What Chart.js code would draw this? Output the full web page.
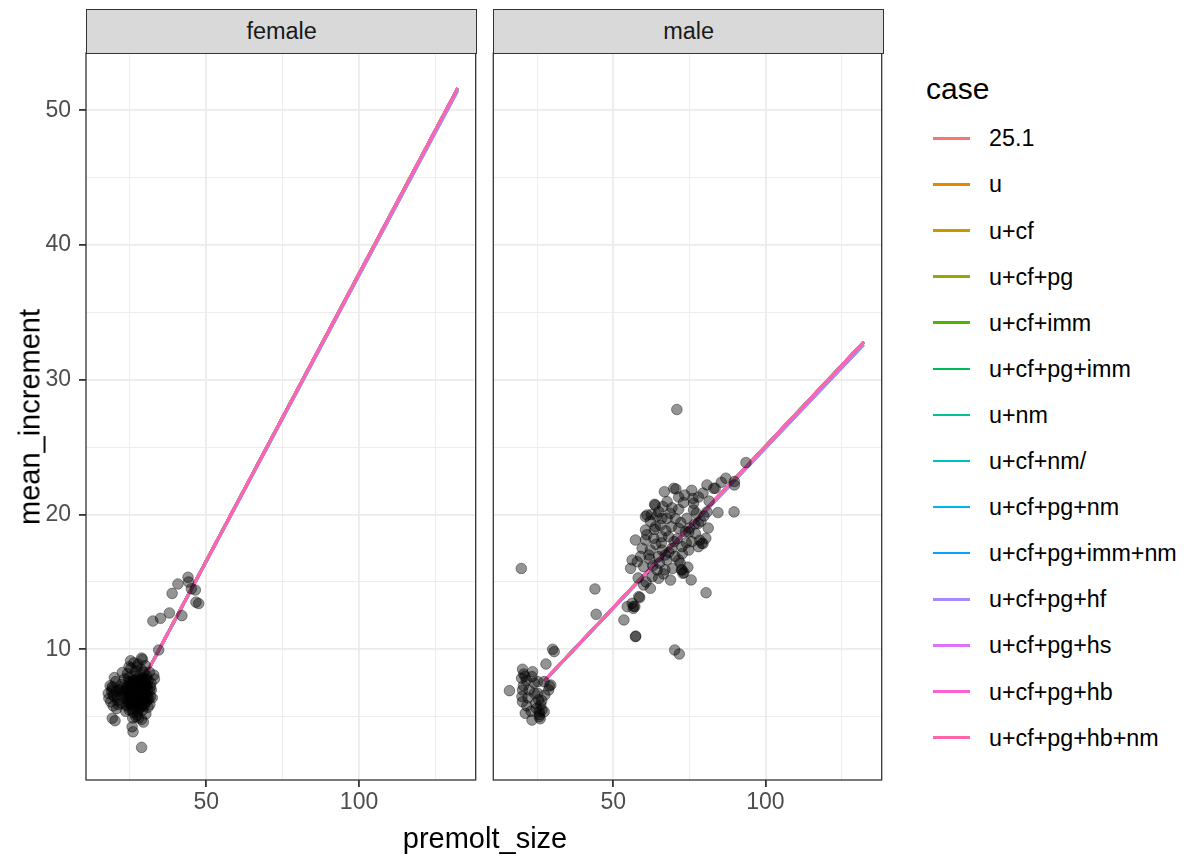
<!DOCTYPE html>
<html><head><meta charset="utf-8">
<script src="https://cdn.jsdelivr.net/npm/chart.js@4.4.0/dist/chart.umd.min.js"></script>
<style>
html,body{margin:0;padding:0;background:#fff;width:1190px;height:857px;overflow:hidden;font-family:"Liberation Sans",Arial,Helvetica,sans-serif;}
canvas{position:absolute;}
.strip{position:absolute;top:8.5px;height:45.5px;box-sizing:border-box;background:#D9D9D9;border:1.3px solid #333;color:#1A1A1A;font-size:23.5px;display:flex;align-items:center;justify-content:center;}
.ttl{position:absolute;color:#000;font-size:29px;white-space:nowrap;}
.leg{position:absolute;font-size:23.3px;color:#000;white-space:nowrap;}
.sw{position:absolute;height:2.6px;width:37px;}
</style>
</head><body>
<canvas id="cf" width="482" height="802" style="left:0px;top:23.3px;"></canvas>
<canvas id="cm" width="405" height="802" style="left:483px;top:23.3px;"></canvas>
<div class="strip" style="left:86px;width:391.3px;">female</div>
<div class="strip" style="left:493.3px;width:390.7px;">male</div>
<div class="ttl" id="xt" style="left:485px;top:838px;transform:translate(-50%,-50%);">premolt_size</div>
<div class="ttl" id="yt" style="left:30px;top:416.5px;transform:translate(-50%,-50%) rotate(-90deg);">mean_increment</div>
<div id="legend"></div>
<script>
// ---- data ----
const panels = ['female','male'];
const cases = ['25.1','u','u+cf','u+cf+pg','u+cf+imm','u+cf+pg+imm','u+nm','u+cf+nm/','u+cf+pg+nm','u+cf+pg+imm+nm','u+cf+pg+hf','u+cf+pg+hs','u+cf+pg+hb','u+cf+pg+hb+nm'];
const caseColors = ['#F8766D','#E38900','#C49A00','#99A800','#53B400','#00BC56','#00C094','#00BFC4','#00B6EB','#06A4FF','#A58AFF','#DF70F8','#FB61D7','#FF66A8'];

const xTicks = [25,50,75,100,125];
const xMajor = [50,100];
const yTicks = [5,10,15,20,25,30,35,40,45,50];
const yMajor = [10,20,30,40,50];
const xLimits = [10.6,138.2];
const yLimits = [0.3,54.26];

const femaleX = [44.0,40.7,44.2,46.4,45.1,38.8,46.6,47.5,42.0,37.9,35.0,32.5,34.4,28.8,29.1,25.2,
  22.5,32.8,33.0,19.2,17.9,18.1,19.2,20.1,25.7,26.0,28.8,27.4,28.8,31.7,31.5,31.7,31.9,19.2,
  18.5,19.0,19.8,20.3,20.9,21.4,18.7,19.5,20.6,21.8,22.3,21.2,22.0,19.9,22.6,
  23.2,23.5,23.8,24.0,24.2,24.4,24.6,24.8,25.0,25.1,25.3,25.5,25.6,25.8,26.0,26.1,26.2,26.4,26.5,26.7,
  26.8,27.0,27.1,27.2,27.4,27.5,27.6,27.7,27.9,28.0,28.1,28.2,28.3,28.5,28.6,28.7,28.8,28.9,29.0,29.1,
  29.2,29.3,29.4,29.5,29.6,29.7,29.8,29.9,30.0,30.1,30.2,30.3,30.4,30.5,30.6,30.8,30.9,31.0,31.2,31.4,
  31.5,32.0,32.3,24.7,26.3,27.3,23.0,23.6,25.9,27.8,29.4,26.9,
  23.8,24.3,24.9,25.4,25.9,26.3,26.8,27.2,27.7,28.1,28.6,29.0,29.5,29.9,30.3,
  23.9,24.5,25.2,25.7,26.1,26.6,27.0,27.5,28.0,28.4,28.9,29.3,29.8,30.2,30.7,
  24.1,24.7,25.3,25.8,26.4,26.9,27.4,27.9,28.3,28.8,29.2,29.7,30.1,30.6,
  24.4,25.0,25.6,26.2,26.7,27.2,27.8,28.4,28.9,29.5,30.0,
  20.5,21.0,21.6,19.4,22.1,
  24.6,25.5,26.0,26.5,27.1,27.6,28.2,28.7,29.2,29.7,
  24.9,25.4,26.0,26.6,27.3,27.9,28.5,29.0,29.6,30.1,
  25.2,25.8,26.4,27.0,27.6,28.2,28.8,29.4,26.2,27.7];
const femaleY = [15.35,14.85,15.0,14.4,14.5,14.15,13.5,13.4,12.5,12.7,12.3,12.1,9.95,9.35,9.25,9.15,
  8.28,8.09,7.8,7.1,6.73,6.36,4.88,4.7,4.25,3.88,4.8,5.12,2.72,6.48,5.9,7.22,7.5,7.22,
  7.3,6.9,6.5,7.6,6.2,7.0,6.1,5.8,5.6,6.6,7.4,5.9,6.0,7.9,6.8,
  7.8,6.6,5.9,7.2,8.2,6.1,6.9,5.5,7.6,6.4,8.6,5.8,7.1,6.7,8.0,5.3,6.2,7.4,6.9,5.7,
  8.4,6.5,7.8,6.0,7.1,5.4,8.9,6.7,7.5,6.2,5.6,8.1,7.0,6.5,7.7,5.9,8.5,6.9,7.3,6.1,
  5.5,7.9,6.6,8.3,7.1,5.8,6.4,7.6,8.8,6.8,5.2,7.3,6.1,8.0,6.6,7.0,5.7,7.7,6.3,8.3,
  6.9,7.0,6.4,8.7,9.0,8.7,6.9,5.4,4.9,4.9,4.6,5.0,
  7.0,6.3,7.4,6.0,6.9,7.7,6.4,7.2,6.0,6.8,7.5,6.3,7.0,6.5,7.8,
  5.8,7.9,6.7,5.5,7.2,6.1,7.6,6.8,5.7,7.3,6.4,7.8,6.0,7.1,6.4,
  6.9,6.2,7.4,6.6,5.9,7.1,6.3,6.9,7.6,5.8,6.7,7.4,6.2,7.3,
  7.6,6.5,6.0,7.0,7.7,5.9,6.5,7.1,6.0,6.8,7.5,
  6.9,6.4,7.2,6.6,7.0,
  6.6,7.3,6.1,6.8,7.4,6.2,7.1,6.5,7.7,6.9,
  6.0,6.8,7.5,6.3,6.7,7.3,6.1,7.0,6.4,7.2,
  7.1,6.4,6.8,6.1,7.0,6.6,7.8,6.2,7.6,5.8];

const maleX = [15.9,19.8,20.2,20.6,19.9,23.5,23.3,25.2,27.3,29.0,29.5,28.8,20.2,20.0,20.2,21.1,23.3,25.7,25.7,26.2,
  27.3,25.5,24.1,22.4,25.2,26.6,27.9,30.1,30.6,21.5,20.5,25.8,26.0,24.8,
  21.0,22.0,24.5,26.5,23.0,27.5,21.6,24.0,
  44.4,44.0,53.5,54.6,56.6,57.1,58.7,57.3,57.4,70.2,71.7,80.5,70.9,93.6,87.0,89.8,89.8,89.7,84.4,80.4,79.1,75.6,72.4,72.9,
  69.9,75.8,80.8,83.0,78.0,73.5,71.5,67.7,63.6,63.8,69.3,71.5,76.4,76.4,80.8,60.6,62.2,66.0,67.7,74.2,78.0,78.8,
  71.5,73.7,60.6,63.9,68.2,57.3,60.6,63.3,66.0,75.8,78.0,79.5,59.5,62.2,66.0,69.3,72.6,74.8,56.2,57.9,61.7,64.9,
  67.1,67.7,71.5,72.0,55.7,60.0,64.4,62.8,64.9,68.8,72.6,73.2,60.0,62.2,58.4,56.2,56.7,
  61.1,70.4,74.8,65.5,70.0,77.0,63.0,66.5,69.5,83.5,81.5,79.5,65.0,85.5,66.8,
  59.0,61.0,62.5,64.0,65.2,66.3,67.3,68.3,69.1,70.3,71.0,72.2,73.1,74.0,75.1,76.2,77.3,78.4,79.8,81.2,
  58.2,60.8,62.0,63.5,65.8,67.0,68.7,70.6,72.7,74.5,76.8,64.3];
const maleY = [6.93,16.0,8.52,8.17,7.85,8.34,7.97,7.6,7.6,7.28,7.35,6.98,6.98,6.49,6.11,5.25,4.75,5.0,5.37,5.87,
  5.37,6.24,6.73,6.98,6.73,5.5,8.91,10.0,9.83,7.7,7.3,5.15,4.85,5.6,
  8.0,6.4,6.0,6.2,5.4,6.6,5.8,7.5,
  12.6,14.48,12.18,13.17,13.04,13.17,13.84,10.94,10.98,9.95,9.65,14.2,27.8,23.86,22.7,22.45,22.2,20.2,20.15,18.24,17.87,15.15,15.9,15.64,
  21.95,21.8,22.2,21.95,21.3,21.45,21.3,20.96,20.76,20.7,20.5,20.4,20.84,20.34,20.2,19.85,19.5,19.72,19.72,19.72,19.35,19.5,
  18.98,18.73,18.86,19.1,18.36,18.11,18.11,18.24,18.36,17.99,17.62,17.85,17.5,17.37,17.37,17.5,17.62,17.37,16.63,16.5,17.0,16.88,
  17.0,16.63,16.63,16.4,16.01,16.13,15.89,15.39,15.27,15.14,15.89,15.7,14.77,14.53,13.91,13.41,13.2,
  19.97,19.7,18.7,19.2,18.0,18.6,16.2,15.6,16.0,21.95,21.0,21.6,20.2,22.4,21.7,
  16.9,18.5,20.0,17.8,16.4,20.6,18.8,17.2,19.1,16.9,18.2,19.4,20.9,17.9,19.0,21.2,20.1,18.1,19.9,19.0,
  15.3,15.0,16.7,18.9,17.9,15.9,20.1,21.9,17.1,16.1,19.3,19.9];

// fitted lines per case: value at start and end of premolt_size range
const femaleLineX = [27.5,132.3];
const femaleLineStart = [6.98,6.98,6.98,6.98,6.98,6.98,6.98,6.98,6.98,6.95,6.95,6.98,6.98,6.98];
const femaleLineEnd   = [51.65,51.65,51.65,51.65,51.65,51.65,51.65,51.65,51.6,51.45,51.45,51.65,51.65,51.65];
const maleLineX = [27.3,132.3];
const maleLineStart = [7.65,7.65,7.65,7.65,7.65,7.65,7.65,7.65,7.65,7.62,7.62,7.65,7.65,7.65];
const maleLineEnd   = [32.81,32.81,32.81,32.81,32.81,32.81,32.81,32.81,32.75,32.6,32.6,32.81,32.81,32.81];

// ---- rendering ----
const FONT = '"Liberation Sans", Arial, Helvetica, sans-serif';
const borderPlugin = {
  id:'pborder',
  afterDatasetsDraw(chart){
    const {ctx, chartArea:a} = chart;
    ctx.save(); ctx.strokeStyle='#333333'; ctx.lineWidth=1.3;
    ctx.strokeRect(a.left,a.top,a.right-a.left,a.bottom-a.top);
    ctx.restore();
  }
};

function makeChart(id, xs, ys, lx, ls, le, showY, pad){
  const datasets = [];
  datasets.push({
    label:'points',
    data: xs.map((x,i)=>({x:x,y:ys[i]})),
    pointRadius:5.3, pointHoverRadius:5.3,
    pointBackgroundColor:'rgba(0,0,0,0.42)',
    pointBorderColor:'rgba(0,0,0,0.4)',
    pointBorderWidth:1,
    showLine:false, order:0
  });
  cases.forEach((c,i)=>{
    datasets.push({
      label:c,
      data:[{x:lx[0],y:ls[i]},{x:lx[1],y:le[i]}],
      showLine:true, borderColor:caseColors[i], borderWidth:2.8,
      pointRadius:0, pointHoverRadius:0, fill:false, order:100-i
    });
  });
  return new Chart(document.getElementById(id), {
    type:'scatter',
    data:{datasets},
    options:{
      responsive:false, animation:false, devicePixelRatio:1,
      layout:{padding:pad},
      plugins:{legend:{display:false}, tooltip:{enabled:false}},
      events:[],
      scales:{
        x:{
          type:'linear', min:xLimits[0], max:xLimits[1],
          afterBuildTicks:s=>{s.ticks = xTicks.map(v=>({value:v}));},
          afterFit:s=>{s.height=45;},
          border:{display:false},
          grid:{
            color:'#EBEBEB',
            lineWidth:c=>xMajor.includes(c.tick && c.tick.value)?1.8:0.9,
            drawTicks:true, tickLength:7, tickWidth:1.8,
            tickColor:c=>xMajor.includes(c.tick && c.tick.value)?'#333333':'rgba(0,0,0,0)'
          },
          ticks:{autoSkip:false, maxRotation:0, minRotation:0, padding:2, color:'#4D4D4D',
            font:{family:FONT,size:23},
            callback:v=>xMajor.includes(v)?String(v):''}
        },
        y:{
          type:'linear', min:yLimits[0], max:yLimits[1],
          afterBuildTicks:s=>{s.ticks = yTicks.map(v=>({value:v}));},
          afterFit:s=>{s.width = showY?86:0;},
          border:{display:false},
          grid:{
            color:'#EBEBEB',
            lineWidth:c=>yMajor.includes(c.tick && c.tick.value)?1.8:0.9,
            drawTicks:showY, tickLength:7, tickWidth:1.8,
            tickColor:c=>yMajor.includes(c.tick && c.tick.value)?'#333333':'rgba(0,0,0,0)'
          },
          ticks:{display:showY, autoSkip:false, padding:8, color:'#4D4D4D',
            font:{family:FONT,size:23},
            callback:v=>yMajor.includes(v)?String(v):''}
        }
      }
    },
    plugins:[borderPlugin]
  });
}

makeChart('cf', femaleX, femaleY, femaleLineX, femaleLineStart, femaleLineEnd, true, {top:30,left:0,right:4.7,bottom:0});
makeChart('cm', maleX, maleY, maleLineX, maleLineStart, maleLineEnd, false, {top:30,left:10.3,right:4,bottom:0});

// legend
const leg = document.getElementById('legend');
const t = document.createElement('div');
t.className='ttl'; t.textContent='case'; t.style.fontSize='30px';
t.style.left='926px'; t.style.top='89px'; t.style.transform='translateY(-50%)';
leg.appendChild(t);
cases.forEach((c,i)=>{
  const y = 138.3 + i*46.1;
  const s = document.createElement('div');
  s.className='sw'; s.style.left='933px'; s.style.top=(y-1.3)+'px'; s.style.background=caseColors[i];
  leg.appendChild(s);
  const l = document.createElement('div');
  l.className='leg'; l.textContent=c; l.style.left='989px'; l.style.top=y+'px'; l.style.transform='translateY(-50%)';
  leg.appendChild(l);
});
</script>
</body></html>
